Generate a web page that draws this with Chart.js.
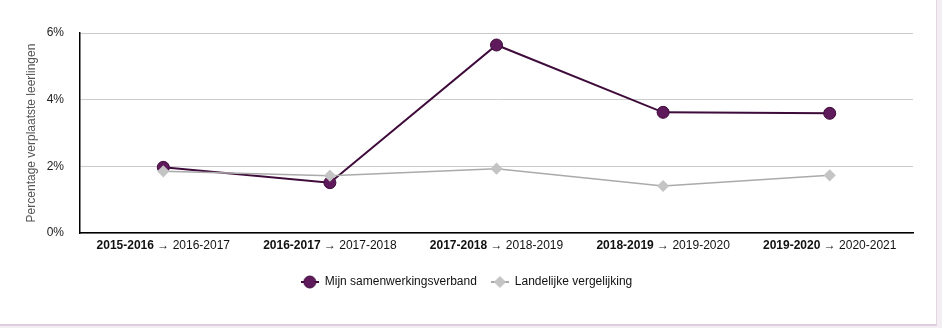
<!DOCTYPE html>
<html>
<head>
<meta charset="utf-8">
<script src="https://cdn.jsdelivr.net/npm/chart.js@4"></script>
<style>
  body { margin: 0; background: #f4eef4; }
  .card { position: absolute; left: 0; top: 0; width: 936px; height: 324px; background: #fff;
          border-right: 1px solid #e2d6e2; border-bottom: 2px solid #ddcfdd; }
  #chart { position: absolute; left: 0; top: 0; }
</style>
</head>
<body>
<div class="card">
  <canvas id="chart" width="936" height="324"></canvas>
</div>
<script>
// Periods (bold part + normal part of each label)
const fromYears = ["2015-2016", "2016-2017", "2017-2018", "2018-2019", "2019-2020"];
const toYears = ["2016-2017", "2017-2018", "2018-2019", "2019-2020", "2020-2021"];
const labels = fromYears.map((f, i) => f + " → " + toYears[i]);

const ownValues = [1.97, 1.51, 5.64, 3.62, 3.59];
const nationalValues = [1.85, 1.72, 1.93, 1.41, 1.73];
const yTicks = [0, 2, 4, 6];

const fontFamily = "'Liberation Sans', Arial, sans-serif";

// small legend symbols: marker with a short line through it
function legendSymbol(lineColor, fill, stroke, diamond) {
    const c = document.createElement("canvas");
    c.width = 18;
    c.height = 14;
    const g = c.getContext("2d");
    g.strokeStyle = lineColor;
    g.lineWidth = 2;
    g.beginPath();
    g.moveTo(0, 7);
    g.lineTo(18, 7);
    g.stroke();
    g.fillStyle = fill;
    g.strokeStyle = stroke;
    g.lineWidth = 1;
    g.beginPath();
    if (diamond) {
        g.moveTo(9, 1.5); g.lineTo(14.5, 7); g.lineTo(9, 12.5); g.lineTo(3.5, 7); g.closePath();
    } else {
        g.arc(9, 7, 6, 0, Math.PI * 2);
    }
    g.fill();
    g.stroke();
    return c;
}
const ownSymbol = legendSymbol("#3e0b3b", "#5e1a5b", "#3e0b3b", false);
const nationalSymbol = legendSymbol("#aaaaaa", "#c4c4c4", "#c4c4c4", true);

// draws x labels with the first year bold
const mixedLabels = {
    id: "mixedLabels",
    afterDraw(chart) {
        const ctx = chart.ctx;
        const xScale = chart.scales.x;
        const y = xScale.top + 13;
        ctx.save();
        ctx.textBaseline = "middle";
        ctx.textAlign = "left";
        ctx.fillStyle = "#111";
        labels.forEach((lab, i) => {
            const x = xScale.getPixelForTick(i);
            const boldFont = "bold 12px " + fontFamily;
            const normFont = "12px " + fontFamily;
            const rest = " → " + toYears[i];
            ctx.font = boldFont;
            const w1 = ctx.measureText(fromYears[i]).width;
            ctx.font = normFont;
            const w2 = ctx.measureText(rest).width;
            const start = x - (w1 + w2) / 2;
            ctx.font = boldFont;
            ctx.fillText(fromYears[i], start, y);
            ctx.font = normFont;
            ctx.fillText(rest, start + w1, y);
        });
        ctx.restore();
    }
};

new Chart(document.getElementById("chart"), {
    type: "line",
    data: {
        labels: labels,
        datasets: [
            {
                label: "Mijn samenwerkingsverband",
                data: ownValues,
                borderColor: "#3e0b3b",
                borderWidth: 2,
                backgroundColor: "#5e1a5b",
                pointBackgroundColor: "#5e1a5b",
                pointBorderColor: "#3e0b3b",
                pointBorderWidth: 1,
                pointRadius: 6,
                pointStyle: "circle",
                order: 1
            },
            {
                label: "Landelijke vergelijking",
                data: nationalValues,
                borderColor: "#aaaaaa",
                borderWidth: 1.5,
                backgroundColor: "#c4c4c4",
                pointBackgroundColor: "#c4c4c4",
                pointBorderColor: "#c4c4c4",
                pointRadius: 5,
                pointStyle: "rectRot",
                order: 0
            }
        ]
    },
    options: {
        responsive: false,
        animation: false,
        layout: { padding: { left: 20, right: 23, top: 33, bottom: 26 } },
        plugins: {
            tooltip: { enabled: false },
            legend: {
                position: "bottom",
                labels: {
                    usePointStyle: true,
                    pointStyleWidth: 18,
                    boxHeight: 12,
                    padding: 14,
                    color: "#111",
                    font: { family: fontFamily, size: 12 },
                    sort: (a, b) => a.datasetIndex - b.datasetIndex,
                    generateLabels: chart => chart.data.datasets.map((ds, i) => ({
                        text: ds.label,
                        datasetIndex: i,
                        pointStyle: i === 0 ? ownSymbol : nationalSymbol,
                        fillStyle: ds.backgroundColor,
                        strokeStyle: ds.borderColor,
                        lineWidth: 0,
                        fontColor: "#111",
                        hidden: false
                    }))
                }
            }
        },
        scales: {
            x: {
                offset: true,
                afterFit: s => { s.height = 29; },
                grid: { display: false, drawTicks: false },
                border: { color: "#000", width: 1.5 },
                ticks: { color: "rgba(0,0,0,0)", padding: 8, maxRotation: 0, font: { family: fontFamily, size: 12 } }
            },
            y: {
                min: 0,
                max: 6,
                afterFit: s => { s.width = 60; },
                afterBuildTicks: scale => { scale.ticks = yTicks.map(v => ({ value: v })); },
                grid: { color: "#cccccc", drawTicks: false },
                border: { color: "#000", width: 1.5 },
                ticks: {
                    padding: 16,
                    color: "#222",
                    font: { family: fontFamily, size: 12 },
                    callback: v => v + "%"
                },
                title: {
                    display: true,
                    text: "Percentage verplaatste leerlingen",
                    color: "#555",
                    padding: { top: 4, bottom: 0 },
                    font: { family: fontFamily, size: 12 }
                }
            }
        }
    },
    plugins: [mixedLabels]
});
</script>
</body>
</html>
